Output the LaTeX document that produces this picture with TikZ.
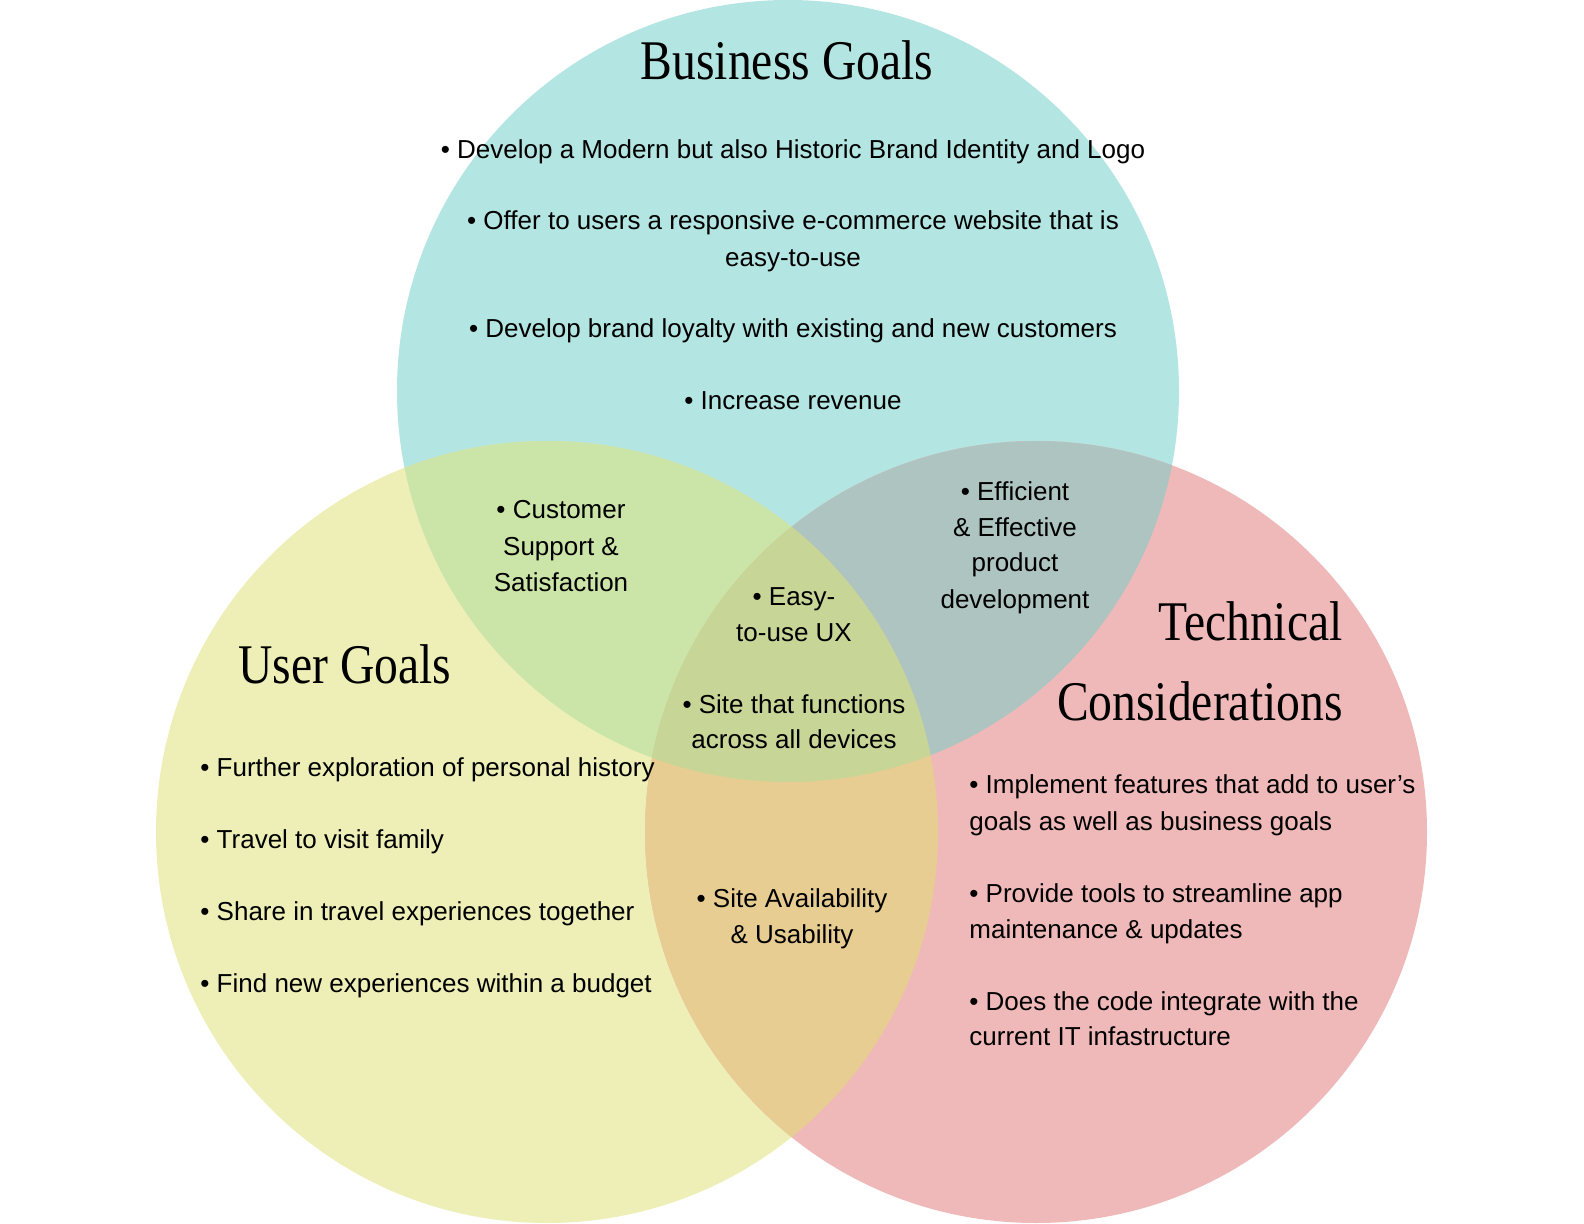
\documentclass[tikz,border=0pt]{standalone}
\usepackage{fontspec}
\setmainfont{Liberation Sans}
\newfontfamily\titlefont[FakeStretch=0.85]{Liberation Serif}
\definecolor{topc}{HTML}{B3E5E2}
\definecolor{leftc}{HTML}{EEEFB7}
\definecolor{rightc}{HTML}{F0B9B9}
\definecolor{tlc}{HTML}{CBE4A7}
\definecolor{trc}{HTML}{AEC4C1}
\definecolor{lrc}{HTML}{E8CD92}
\definecolor{allc}{HTML}{C7D597}
\tikzset{
  body/.style={font=\fontsize{13pt}{17pt}\selectfont, inner sep=0pt, text=black},
  cline/.style={body, anchor=base},
  lline/.style={body, anchor=base west},
  title/.style={font=\titlefont\fontsize{28pt}{34pt}\selectfont, inner sep=0pt, text=black},
}
\begin{document}
\begin{tikzpicture}[x=0.5pt,y=-0.5pt]
\useasboundingbox[fill=white] (0,0) rectangle (1584,1224);
\def\R{195.5pt}
\coordinate (ctop) at (788,391);
\coordinate (cleft) at (547,832);
\coordinate (cright) at (1036,832);
% circles
\fill[topc] (ctop) circle[radius=\R];
\fill[leftc] (cleft) circle[radius=\R];
\fill[rightc] (cright) circle[radius=\R];
\begin{scope}
  \clip (ctop) circle[radius=\R];
  \fill[tlc] (cleft) circle[radius=\R];
  \fill[trc] (cright) circle[radius=\R];
\end{scope}
\begin{scope}
  \clip (cleft) circle[radius=\R];
  \fill[lrc] (cright) circle[radius=\R];
\end{scope}
\begin{scope}
  \clip (ctop) circle[radius=\R];
  \clip (cleft) circle[radius=\R];
  \fill[allc] (cright) circle[radius=\R];
\end{scope}
% titles
\node[title, anchor=base] (tbus) at (787,80) {Business Goals};
\node[title, anchor=base west] (tuser) at (238,683) {User Goals};
\node[title, anchor=base east] (ttech1) at (1343,640) {Technical};
\node[title, anchor=base east] (ttech2) at (1343,720) {Considerations};
% business goals
\node[cline] (b1) at (793,159) {• Develop a Modern but also Historic Brand Identity and Logo};
\node[cline] (b2a) at (793,230) {• Offer to users a responsive e-commerce website that is};
\node[cline] (b2b) at (793,267) {easy-to-use};
\node[cline] (b3) at (793,338) {• Develop brand loyalty with existing and new customers};
\node[cline] (b4) at (793,410) {• Increase revenue};
% user goals
\node[lline] (u1) at (200,776) {• Further exploration of personal history};
\node[lline] (u2) at (200,848) {• Travel to visit family};
\node[lline] (u3) at (200,920) {• Share in travel experiences together};
\node[lline] (u4) at (200,992) {• Find new experiences within a budget};
% technical
\node[lline] (t1a) at (969,793) {• Implement features that add to user’s};
\node[lline] (t1b) at (969,830) {goals as well as business goals};
\node[lline] (t2a) at (969,902) {• Provide tools to streamline app};
\node[lline] (t2b) at (969,938) {maintenance \& updates};
\node[lline] (t3a) at (969,1010) {• Does the code integrate with the};
\node[lline] (t3b) at (969,1045) {current IT infastructure};
% business & user
\node[cline] (bu1) at (561,519) {• Customer};
\node[cline] (bu2) at (561,555) {Support \&};
\node[cline] (bu3) at (561,591) {Satisfaction};
% business & technical
\node[cline] (bt1) at (1015,501) {• Efficient};
\node[cline] (bt2) at (1015,537) {\& Effective};
\node[cline] (bt3) at (1015,572) {product};
\node[cline] (bt4) at (1015,608) {development};
% all three
\node[cline] (a1) at (794,605) {• Easy-};
\node[cline] (a2) at (794,641) {to-use UX};
\node[cline] (a3) at (794,713) {• Site that functions};
\node[cline] (a4) at (794,748) {across all devices};
% user & technical
\node[cline] (ut1) at (792,907) {• Site Availability};
\node[cline] (ut2) at (792,943) {\& Usability};
\end{tikzpicture}
\end{document}
